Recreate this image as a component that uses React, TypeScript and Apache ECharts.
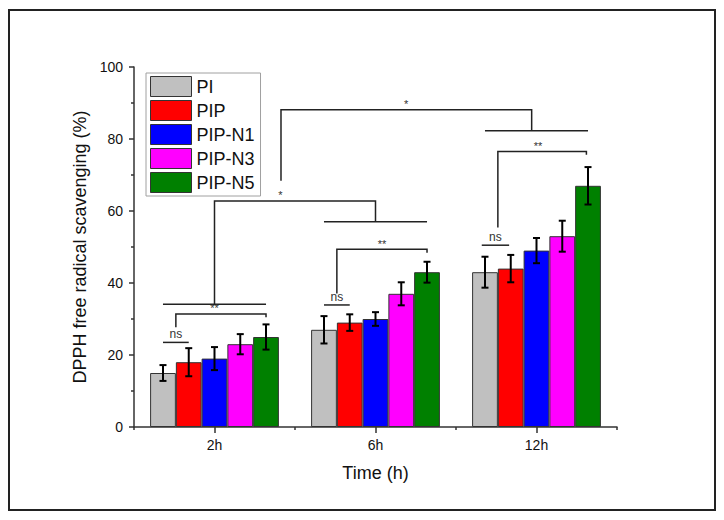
import React, { useEffect, useRef } from "react";
import * as echarts from "echarts";

const categories = ["2h", "6h", "12h"];
const seriesNames = ["PI", "PIP", "PIP-N1", "PIP-N3", "PIP-N5"];
const seriesColors = ["#c0c0c0", "#ff0000", "#0000ff", "#ff00ff", "#008000"];
const meanPI = [15, 27, 43];
const meanPIP = [18, 29, 44];
const meanN1 = [19, 30, 49];
const meanN3 = [23, 37, 53];
const meanN5 = [25, 43, 67];
const errPI = [2.2, 3.8, 4.3];
const errPIP = [3.9, 2.3, 3.8];
const errN1 = [3.2, 1.9, 3.5];
const errN3 = [2.8, 3.2, 4.3];
const errN5 = [3.5, 2.9, 5.2];
const yTicks = [0, 20, 40, 60, 80, 100];

// significance brackets: x in category units (0..3 across the plot), y in %
const bracketLines: number[][][] = [
  [[0.18, 23.5], [0.34, 23.5]],
  [[0.26, 27.7], [0.26, 31.4], [0.82, 31.4], [0.82, 30.5]],
  [[0.18, 34.1], [0.82, 34.1]],
  [[0.5, 34.1], [0.5, 62.8], [1.5, 62.8], [1.5, 57]],
  [[1.18, 57], [1.82, 57]],
  [[1.18, 33.9], [1.34, 33.9]],
  [[1.26, 37.1], [1.26, 49.4], [1.82, 49.4], [1.82, 48.4]],
  [[0.913, 68.4], [0.913, 88.1], [2.47, 88.1], [2.47, 82.3]],
  [[2.18, 82.3], [2.82, 82.3]],
  [[2.16, 50.5], [2.33, 50.5]],
  [[2.26, 55.4], [2.26, 76.5], [2.81, 76.5], [2.81, 75.6]],
];
const bracketTexts = ["ns", "**", "*", "ns", "**", "*", "ns", "**"];
const bracketTextX = [0.26, 0.5, 0.91, 1.26, 1.54, 1.69, 2.245, 2.51];
const bracketTextY = [23.5, 31.4, 62.8, 33.9, 49.4, 88.1, 50.5, 76.5];

const FONT = "'Liberation Sans', Arial, sans-serif";

export default function App() {
  const ref = useRef<HTMLDivElement>(null);
  useEffect(() => {
    if (!ref.current) return;
    const chart = echarts.init(ref.current, null, { renderer: "svg" });
    const means = [meanPI, meanPIP, meanN1, meanN3, meanN5];
    const errs = [errPI, errPIP, errN1, errN3, errN5];

    const barSeries = seriesNames.map((name, i) => ({
      name,
      type: "bar",
      data: means[i],
      barGap: "0%",
      barCategoryGap: "20%",
      itemStyle: { color: seriesColors[i], borderColor: "#333", borderWidth: 1 },
      z: 2,
    }));

    const errSeries = seriesNames.map((name, i) => ({
      name: name + "-err",
      type: "custom",
      xAxisIndex: 0,
      yAxisIndex: 0,
      silent: true,
      z: 3,
      data: means[i].map((m, k) => [k, m - errs[i][k], m + errs[i][k]]),
      renderItem: (params: any, api: any) => {
        const cat = api.value(0);
        const lo = api.coord([cat, api.value(1)]);
        const hi = api.coord([cat, api.value(2)]);
        const bw = api.size([1, 0])[0] * 0.16;
        const x = lo[0] + (i - 2) * bw;
        const cap = 3.5;
        const st = { stroke: "#000", lineWidth: 2 };
        return {
          type: "group",
          children: [
            { type: "line", shape: { x1: x, y1: lo[1], x2: x, y2: hi[1] }, style: st },
            { type: "line", shape: { x1: x - cap, y1: lo[1], x2: x + cap, y2: lo[1] }, style: st },
            { type: "line", shape: { x1: x - cap, y1: hi[1], x2: x + cap, y2: hi[1] }, style: st },
          ],
        };
      },
    }));

    const bracketSeries = {
      name: "brackets",
      type: "custom",
      xAxisIndex: 1,
      yAxisIndex: 0,
      silent: true,
      z: 4,
      data: bracketLines.map(() => [1.5, 50]),
      renderItem: (params: any, api: any) => {
        const pts = bracketLines[params.dataIndex].map((p) => api.coord(p));
        return {
          type: "polyline",
          shape: { points: pts },
          style: { stroke: "#222", lineWidth: 1.5, fill: "none" },
        };
      },
    };

    const textSeries = {
      name: "bracketText",
      type: "custom",
      xAxisIndex: 1,
      yAxisIndex: 0,
      silent: true,
      z: 4,
      data: bracketTexts.map(() => [1.5, 50]),
      renderItem: (params: any, api: any) => {
        const k = params.dataIndex;
        const p = api.coord([bracketTextX[k], bracketTextY[k]]);
        const t = bracketTexts[k];
        return {
          type: "text",
          x: p[0],
          y: p[1] - (t === "ns" ? 2 : 0),
          style: {
            text: t,
            fill: "#333",
            font: (t === "ns" ? "12px " : "11px ") + FONT,
            align: "center",
            verticalAlign: "bottom",
          },
        };
      },
    };

    chart.setOption({
      animation: false,
      backgroundColor: "#fff",
      textStyle: { fontFamily: FONT },
      grid: { left: 126, top: 59, right: 99, bottom: 86, containLabel: false },
      legend: {
        data: seriesNames,
        orient: "vertical",
        left: 138,
        top: 65,
        padding: [3, 6, 3, 4],
        itemGap: 3,
        itemWidth: 41,
        itemHeight: 20,
        icon: "rect",
        borderColor: "#a0a0a0",
        borderWidth: 1,
        backgroundColor: "#fff",
        textStyle: { fontSize: 18, color: "#111", fontFamily: FONT, padding: [0, 0, 0, 0] },
        itemStyle: { borderColor: "#333", borderWidth: 1 },
        z: 10,
      },
      xAxis: [
        {
          type: "category",
          data: categories,
          position: "bottom",
          name: "Time (h)",
          nameLocation: "middle",
          nameGap: 37,
          nameTextStyle: { fontSize: 18, color: "#111", fontFamily: FONT },
          axisLine: { show: true, lineStyle: { color: "#333", width: 1.5 } },
          axisTick: { show: true, alignWithLabel: true, length: 6, lineStyle: { color: "#333", width: 1.5 } },
          axisLabel: { fontSize: 14, color: "#111", margin: 11, fontFamily: FONT },
          splitLine: { show: false },
        },
        {
          type: "value",
          min: 0,
          max: 3,
          interval: 1,
          position: "bottom",
          axisLine: { show: false },
          axisTick: { show: true, length: 3, lineStyle: { color: "#333", width: 1.5 } },
          axisLabel: { show: false },
          splitLine: { show: false },
        },
      ],
      yAxis: {
        type: "value",
        min: yTicks[0],
        max: yTicks[yTicks.length - 1],
        interval: yTicks[1] - yTicks[0],
        name: "DPPH free radical scavenging (%)",
        nameLocation: "middle",
        nameGap: 40,
        nameTextStyle: { fontSize: 18, color: "#111", fontFamily: FONT },
        axisLine: { show: true, lineStyle: { color: "#333", width: 1.5 } },
        axisTick: { show: true, length: 5, lineStyle: { color: "#333", width: 1.5 } },
        minorTick: { show: true, splitNumber: 2, length: 3, lineStyle: { color: "#333", width: 1.5 } },
        axisLabel: { fontSize: 14, color: "#111", margin: 11, fontFamily: FONT },
        splitLine: { show: false },
      },
      graphic: [
        {
          type: "rect",
          shape: { x: 1, y: 2, width: 706, height: 500 },
          style: { fill: "none", stroke: "#222", lineWidth: 2 },
          silent: true,
        },
      ],
      series: [...barSeries, ...errSeries, bracketSeries, textSeries],
    });
    return () => chart.dispose();
  }, []);
  return <div ref={ref} style={{ width: 708, height: 505 }} />;
}
